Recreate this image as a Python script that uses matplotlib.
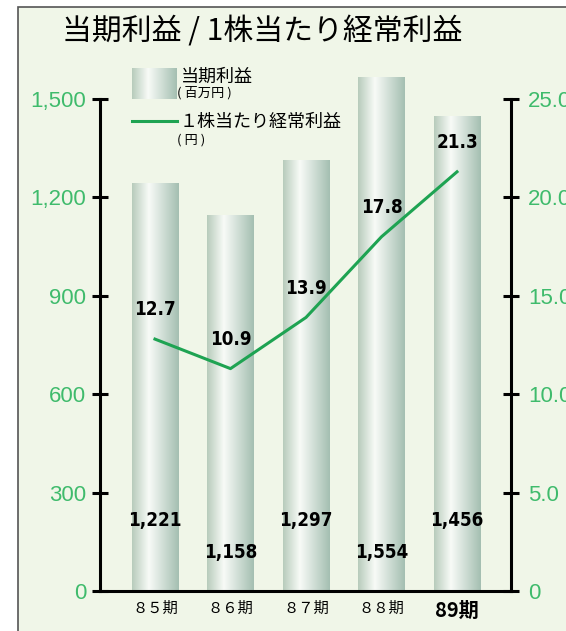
import numpy as np
import matplotlib
matplotlib.use("Agg")
import matplotlib.pyplot as plt
from matplotlib import font_manager as fm
from matplotlib.colors import LinearSegmentedColormap
from matplotlib.patches import Rectangle
from matplotlib.lines import Line2D

plt.rcParams['font.family'] = ['Noto Sans CJK JP', 'DejaVu Sans']

# データ
periods = ['８５期', '８６期', '８７期', '８８期', '89期']
profit = [1241, 1146, 1311, 1567, 1448]          # 当期利益 (百万円) 棒の高さ
profit_labels = ['1,221', '1,158', '1,297', '1,554', '1,456']
eps = [12.8, 11.3, 13.9, 18.0, 21.3]              # 1株当たり経常利益 (円)
eps_labels = ['12.7', '10.9', '13.9', '17.8', '21.3']
left_ticks = [0, 300, 600, 900, 1200, 1500]
left_ticklabels = ['0', '300', '600', '900', '1,200', '1,500']
right_ticks = [0, 5, 10, 15, 20, 25]
right_ticklabels = ['0', '5.0', '10.0', '15.0', '20.0', '25.0']

W, H = 566, 631
GREEN_TXT = '#3fbb6c'
LINE_GREEN = '#1ea352'
bar_cmap = LinearSegmentedColormap.from_list(
    'bar', [(0, '#b7cbbb'), (0.36, '#f8fbf7'), (1.0, '#a4bfb1')])
grad = np.linspace(0, 1, 256).reshape(1, -1)

# 数値ラベル用の細い太字フォントを探す
num_font = None
for f in fm.fontManager.ttflist:
    narrow = ('Narrow' in f.name or 'Condensed' in f.name
              or f.stretch in ('condensed', 'semi-condensed', 'extra-condensed'))
    bold = f.weight in ('bold', 700, 'heavy', 800, 900) or 'Bold' in f.fname
    if narrow and bold and 'Oblique' not in f.fname and 'Italic' not in f.fname:
        num_font = fm.FontProperties(fname=f.fname, size=13.5)
        break
if num_font is None:
    num_font = fm.FontProperties(family='DejaVu Sans', weight='bold', size=12)

fig = plt.figure(figsize=(W / 100, H / 100), dpi=100)
fig.patch.set_facecolor('white')
fig.patches.append(Rectangle((18 / W, -0.1), 1.2, 1.1 - 7 / H,
                             transform=fig.transFigure, facecolor='#f0f6e8',
                             edgecolor='#555555', lw=1.2, zorder=-5))

ax = fig.add_axes([100 / W, 1 - 591 / H, 411 / W, 492 / H])
ax.patch.set_alpha(0)
x = np.arange(len(periods))
bw = 0.61

# 棒 (グラデーション)
for xi, h in zip(x, profit):
    im = ax.imshow(grad, cmap=bar_cmap, aspect='auto', zorder=1,
                   extent=[xi - bw / 2, xi + bw / 2, 0, h])
    im.set_clip_on(False)
ax.set_xlim(-0.728, 4.715)
ax.set_ylim(0, 1500)

for i, (xi, lab) in enumerate(zip(x, profit_labels)):
    yf = 0.144 if i % 2 == 0 else 0.079
    ax.text(xi, yf, lab, transform=ax.get_xaxis_transform(), ha='center',
            va='center', fontproperties=num_font, zorder=5)

for s in ['top', 'right']:
    ax.spines[s].set_visible(False)
for s in ['left', 'bottom']:
    ax.spines[s].set_linewidth(2.2)

ax.set_yticks(left_ticks, left_ticklabels, fontfamily='Liberation Sans')
ax.tick_params(axis='y', direction='inout', length=11.5, width=2.2,
               labelcolor=GREEN_TXT, labelsize=16, pad=4.3)
ax.set_xticks(x, periods)
ax.tick_params(axis='x', length=0, labelsize=11, pad=6.5)
last = ax.get_xticklabels()[-1]
last.set_fontweight('bold')
last.set_fontsize(14.5)

# 折れ線
ax2 = ax.twinx()
for s in ['top', 'left', 'bottom']:
    ax2.spines[s].set_visible(False)
ax2.spines['right'].set_linewidth(2.2)
ax2.plot(x, eps, color=LINE_GREEN, lw=2.2, zorder=3)
ax2.set_ylim(0, 25)
ax2.set_yticks(right_ticks, right_ticklabels, fontfamily='Liberation Sans')
ax2.tick_params(axis='y', direction='inout', length=11.5, width=2.2,
                labelcolor=GREEN_TXT, labelsize=16, pad=6.5)
for xi, v, lab in zip(x, eps, eps_labels):
    ax2.annotate(lab, (xi, v), xytext=(0, 21), textcoords='offset points',
                 ha='center', va='center', fontproperties=num_font, zorder=5)

# タイトル
fig.text(62 / W, 1 - 32 / H, '当期利益 / 1株当たり経常利益', fontsize=21.5, va='center')

# 凡例
lax = fig.add_axes([132 / W, 1 - 99 / H, 45 / W, 31 / H])
lax.imshow(grad, cmap=bar_cmap, aspect='auto')
lax.axis('off')
fig.add_artist(Line2D([132 / W, 177 / W], [1 - 121 / H] * 2, color=LINE_GREEN,
                      lw=2.2, transform=fig.transFigure))
fig.text(181 / W, 1 - 77 / H, '当期利益', fontsize=13, va='center')
fig.text(177 / W, 1 - 93 / H, '( 百万円 )', fontsize=9.5, va='center')
fig.text(180 / W, 1 - 122 / H, '１株当たり経常利益', fontsize=13, va='center')
fig.text(177 / W, 1 - 140 / H, '( 円 )', fontsize=9.5, va='center')

fig.savefig('out.png', dpi=100)
